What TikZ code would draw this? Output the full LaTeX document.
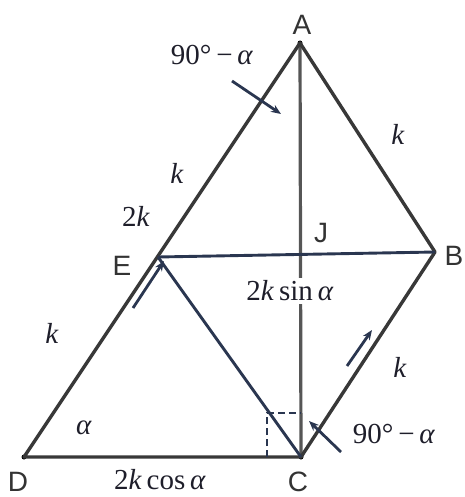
\documentclass[tikz,border=0pt]{standalone}
\usepackage{fontspec}
\setmainfont{Liberation Serif}
\newfontfamily\labfont{Liberation Sans}
\usetikzlibrary{arrows.meta}
\definecolor{edgec}{HTML}{383838}
\definecolor{navyc}{HTML}{2A3650}
\definecolor{inkc}{HTML}{1E1E2A}
\definecolor{ptc}{HTML}{333333}
\begin{document}
\begin{tikzpicture}[x=1pt,y=-1pt,
  edgeline/.style={draw=edgec,line width=3.4pt},
  midline/.style={draw=edgec!85,line width=3.2pt},
  innerline/.style={draw=navyc,line width=2.9pt},
  pointer/.style={draw=navyc,line width=2.8pt,-{Stealth[length=10pt,width=8pt]}},
  rightmark/.style={draw=navyc,line width=2.4pt,dash pattern=on 7pt off 4pt},
  ptlabel/.style={text=ptc,font=\labfont\fontsize{28}{31}\selectfont,inner sep=0pt},
  mathlabel/.style={text=inkc,font=\fontsize{29}{32}\selectfont,inner sep=1pt},
  dotmark/.style={circle,fill=black,inner sep=0pt,minimum size=5pt}]
\useasboundingbox (0,0) rectangle (464,497);
% points
\node[dotmark] (A) at (300,43) {};
\coordinate (B) at (435,252);
\node[dotmark] (C) at (301,457) {};
\node[dotmark] (D) at (24,457) {};
\coordinate (E) at (158,257);
% right angle mark corners
\coordinate (R1) at (267,457);
\coordinate (R2) at (267,413);
\coordinate (R3) at (301,413);
% main lines
\draw[midline] (A.center) -- (C.center);
\draw[edgeline,line join=round] (D.center) -- (A.center) -- (B) -- (C.center) -- cycle;
\draw[innerline] (E) -- (B);
\draw[innerline] (E) -- (C.center);
\draw[rightmark] (R1) -- (R2) -- (R3);
% label on vertical line with white background
\node[mathlabel,fill=white,inner sep=3pt] (sinl) at (290,291) {2\textit{k}\,sin\,\textit{α}};
% arrows
\coordinate (a1s) at (232,81);  \coordinate (a1e) at (281,114);
\coordinate (a2s) at (133,308); \coordinate (a2e) at (164,261);
\coordinate (a3s) at (347,366); \coordinate (a3e) at (372,330);
\coordinate (a4s) at (341,452); \coordinate (a4e) at (309,421);
\draw[pointer] (a1s) -- (a1e);
\draw[pointer] (a2s) -- (a2e);
\draw[pointer] (a3s) -- (a3e);
\draw[pointer] (a4s) -- (a4e);
% point labels
\node[ptlabel] (lA) at (302,25) {A};
\node[ptlabel] (lB) at (454,256) {B};
\node[ptlabel] (lC) at (298,482) {C};
\node[ptlabel] (lD) at (18,482) {D};
\node[ptlabel] (lE) at (122,266) {E};
\node[ptlabel] (lJ) at (321,233) {J};
% math labels
\node[mathlabel] (t1) at (212,55) {90°\,−\,\textit{α}};
\node[mathlabel] (t2) at (398,134) {\textit{k}};
\node[mathlabel] (t3) at (177,173) {\textit{k}};
\node[mathlabel] (t4) at (136,216) {2\textit{k}};
\node[mathlabel] (t5) at (52,333) {\textit{k}};
\node[mathlabel] (t6) at (400,367) {\textit{k}};
\node[mathlabel] (t7) at (84,428) {\textit{α}};
\node[mathlabel] (t8) at (394,434) {90°\,−\,\textit{α}};
\node[mathlabel] (t9) at (160,480) {2\textit{k}\,cos\,\textit{α}};
\end{tikzpicture}
\end{document}
